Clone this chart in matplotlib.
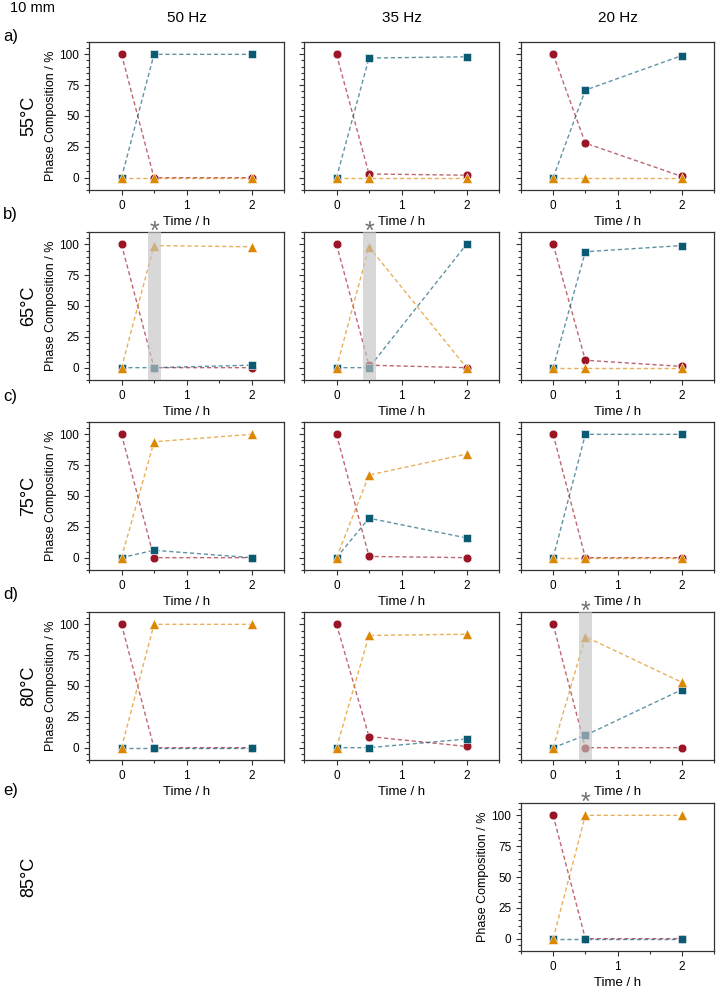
import numpy as np
import matplotlib
matplotlib.use('Agg')
import matplotlib.pyplot as plt
from matplotlib.ticker import MultipleLocator

plt.rcParams['font.family'] = ['Liberation Sans', 'DejaVu Sans']

# ── DATA ────────────────────────────────────────────────────────
times = [0, 0.5, 2]
freqs = ['50 Hz', '35 Hz', '20 Hz']
temps = ['55°C', '65°C', '75°C', '80°C', '85°C']
letters = ['a)', 'b)', 'c)', 'd)', 'e)']

# one list per frequency (50, 35, 20 Hz), values in %
circle_55 = [[100, 0, 0], [100, 3, 2], [100, 28, 1]]
square_55 = [[0, 100, 100], [0, 97, 98], [0, 71, 99]]
triangle_55 = [[0, 0, 0], [0, 0, 0], [0, 0, 0]]

circle_65 = [[100, 0, 0], [100, 2, 0], [100, 6, 1]]
square_65 = [[0, 0, 2], [0, 0, 100], [0, 94, 99]]
triangle_65 = [[0, 99, 98], [0, 98, 0], [0, 0, 0]]

circle_75 = [[100, 0, 0], [100, 1, 0], [100, 0, 0]]
square_75 = [[0, 6, 0], [0, 32, 16], [0, 100, 100]]
triangle_75 = [[0, 94, 100], [0, 67, 84], [0, 0, 0]]

circle_80 = [[100, 0, 0], [100, 9, 1], [100, 0, 0]]
square_80 = [[0, 0, 0], [0, 0, 7], [0, 10, 47]]
triangle_80 = [[0, 100, 100], [0, 91, 92], [0, 90, 53]]

# 85 °C only measured at 20 Hz
circle_85 = [None, None, [100, 0, 0]]
square_85 = [None, None, [0, 0, 0]]
triangle_85 = [None, None, [0, 100, 100]]

circles = [circle_55, circle_65, circle_75, circle_80, circle_85]
squares = [square_55, square_65, square_75, square_80, square_85]
triangles = [triangle_55, triangle_65, triangle_75, triangle_80, triangle_85]

# (row, col) of panels with a shaded 0.5 h point / asterisk
shaded = [(1, 0), (1, 1), (3, 2)]
starred = [(1, 0), (1, 1), (3, 2), (4, 2)]

RED = '#9a1526'
BLUE = '#0b5a74'
ORANGE = '#dc8700'

# ── LAYOUT (pixels) ─────────────────────────────────────────────
W, H = 717, 991
col_left = [89, 304, 521]
col_w = [195, 195, 193]
row_top = [42, 232, 422, 612, 803]
row_h = 148

fig = plt.figure(figsize=(W / 100, H / 100), dpi=100)


def px_axes(left, top, w, h):
    return fig.add_axes([left / W, 1 - (top + h) / H, w / W, h / H])


def draw_series(ax, y, color, marker, ms):
    ax.plot(times, y, linestyle=(0, (3, 2)), color=color, lw=1.0, alpha=0.65, zorder=2)
    ax.plot(times, y, linestyle='none', marker=marker, ms=ms, color=color,
            mec='white', mew=0.4, zorder=3)


for r in range(5):
    for c in range(3):
        if circles[r][c] is None:
            continue
        ax = px_axes(col_left[c], row_top[r], col_w[c], row_h)
        draw_series(ax, circles[r][c], RED, 'o', 6.3)
        draw_series(ax, squares[r][c], BLUE, 's', 5.8)
        draw_series(ax, triangles[r][c], ORANGE, '^', 7.3)
        if (r, c) in shaded:
            ax.axvspan(0.4, 0.6, color='#c4c4c4', alpha=0.65, lw=0, zorder=5)
        if (r, c) in starred:
            ax.text(0.5, 0.955, '*', transform=ax.get_xaxis_transform(),
                    ha='center', va='baseline', fontsize=18, color='#707070')

        ax.set_xlim(-0.5, 2.5)
        ax.set_ylim(-10, 110)
        ax.set_xticks([0, 1, 2])
        ax.xaxis.set_minor_locator(MultipleLocator(0.5))
        ax.set_yticks([0, 25, 50, 75, 100])
        ax.yaxis.set_minor_locator(MultipleLocator(5))
        ax.tick_params(which='both', direction='out', top=False, right=False,
                       labelsize=8.5, color='#333333', width=0.8)
        ax.tick_params(which='major', length=3.5)
        ax.tick_params(which='minor', length=2.5)
        for spine in ax.spines.values():
            spine.set_edgecolor('#333333')
            spine.set_linewidth(0.9)
        ax.set_xlabel('Time / h', fontsize=9.5, labelpad=3)
        if c == 0 or r == 4:
            ax.set_ylabel('Phase Composition / %', fontsize=9, labelpad=2)
        else:
            ax.tick_params(axis='y', labelleft=False)

# ── TEXT ────────────────────────────────────────────────────────
fig.text(10 / W, 1 - 8 / H, '10 mm', fontsize=10.5, ha='left', va='center')
for c in range(3):
    fig.text((col_left[c] + col_w[c] / 2) / W, 1 - 18 / H, freqs[c],
             fontsize=11, ha='center', va='center')

letter_y = [36, 214, 397, 595, 790]
for r in range(5):
    fig.text(3 / W, 1 - letter_y[r] / H, letters[r], fontsize=12,
             ha='left', va='center')
    fig.text(29 / W, 1 - (row_top[r] + row_h / 2) / H, temps[r], fontsize=13,
             rotation=90, ha='center', va='center')

plt.savefig('out.png', dpi=100)
plt.close()
